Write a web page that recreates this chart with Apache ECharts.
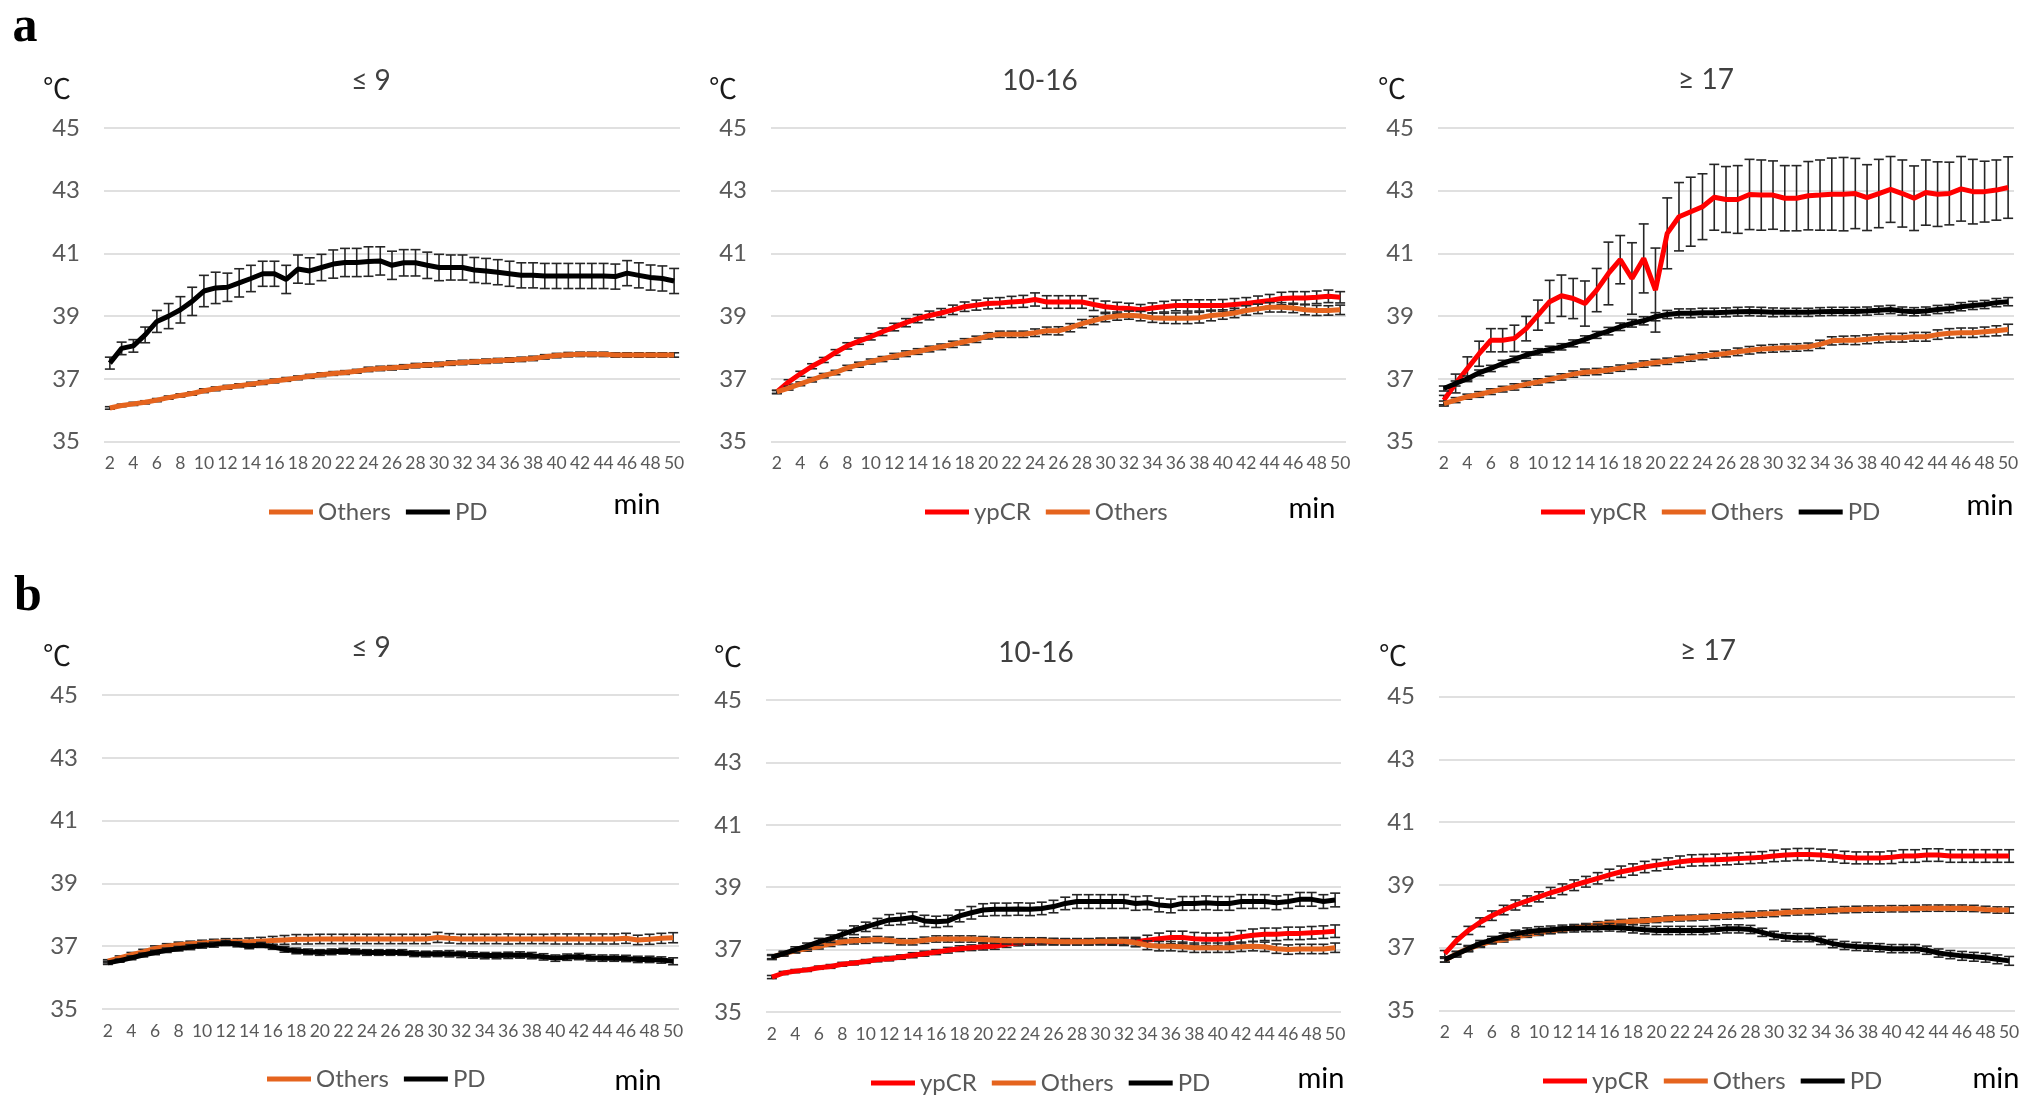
<!DOCTYPE html>
<html>
<head>
<meta charset="utf-8">
<script src="https://cdn.jsdelivr.net/npm/echarts@6/dist/echarts.min.js"></script>
<style>
html,body{margin:0;padding:0;background:#fff;}
#c{width:2031px;height:1109px;}
</style>
</head>
<body>
<div id="c"></div>
<script>
// ---------- DATA ----------
const minutes = ["2","3","4","5","6","7","8","9","10","11","12","13","14","15","16","17","18","19","20","21","22","23","24","25","26","27","28","29","30","31","32","33","34","35","36","37","38","39","40","41","42","43","44","45","46","47","48","49","50"];
const yTicks = [35, 37, 39, 41, 43, 45];
const panelTitles = ["≤ 9", "10-16", "≥ 17", "≤ 9", "10-16", "≥ 17"];

// a: ≤ 9
const a1_others = [36.07,36.15,36.2,36.25,36.32,36.4,36.47,36.53,36.62,36.68,36.73,36.78,36.83,36.88,36.93,36.98,37.03,37.08,37.13,37.17,37.2,37.24,37.3,37.33,37.35,37.38,37.42,37.44,37.46,37.5,37.52,37.54,37.56,37.58,37.6,37.62,37.65,37.7,37.74,37.77,37.78,37.78,37.78,37.76,37.76,37.76,37.76,37.76,37.76];
const a1_others_err = [0.04,0.04,0.05,0.05,0.05,0.05,0.05,0.05,0.06,0.06,0.06,0.06,0.06,0.06,0.06,0.06,0.06,0.06,0.06,0.06,0.06,0.06,0.07,0.07,0.07,0.07,0.07,0.07,0.07,0.07,0.07,0.07,0.07,0.07,0.07,0.07,0.07,0.07,0.07,0.07,0.07,0.07,0.07,0.07,0.07,0.07,0.07,0.07,0.07];
const a1_pd = [37.5,37.97,38.05,38.4,38.83,39.0,39.2,39.47,39.8,39.9,39.92,40.06,40.2,40.35,40.35,40.17,40.5,40.44,40.55,40.66,40.71,40.71,40.74,40.76,40.62,40.7,40.7,40.62,40.55,40.55,40.55,40.47,40.44,40.4,40.35,40.3,40.3,40.28,40.28,40.28,40.28,40.28,40.28,40.26,40.37,40.3,40.23,40.2,40.12];
const a1_pd_err = [0.19,0.2,0.2,0.25,0.35,0.4,0.42,0.45,0.5,0.5,0.45,0.45,0.42,0.4,0.4,0.45,0.45,0.42,0.42,0.45,0.45,0.45,0.47,0.45,0.45,0.42,0.42,0.42,0.42,0.4,0.4,0.4,0.4,0.4,0.4,0.4,0.4,0.4,0.4,0.4,0.4,0.4,0.4,0.4,0.4,0.4,0.4,0.4,0.4];

// a: 10-16
const a2_ypcr = [36.58,36.9,37.16,37.4,37.6,37.84,38.05,38.2,38.34,38.5,38.65,38.79,38.92,39.02,39.1,39.2,39.3,39.35,39.4,39.42,39.45,39.47,39.53,39.45,39.45,39.45,39.45,39.37,39.3,39.26,39.24,39.2,39.26,39.3,39.34,39.34,39.34,39.34,39.34,39.37,39.4,39.45,39.5,39.56,39.58,39.58,39.6,39.63,39.6];
const a2_ypcr_err = [0.05,0.07,0.08,0.08,0.08,0.09,0.1,0.1,0.1,0.12,0.12,0.13,0.13,0.14,0.14,0.15,0.15,0.16,0.17,0.17,0.18,0.19,0.21,0.2,0.2,0.2,0.2,0.19,0.18,0.18,0.17,0.17,0.16,0.17,0.17,0.18,0.18,0.18,0.19,0.19,0.19,0.19,0.19,0.2,0.2,0.2,0.2,0.2,0.18];
const a2_others = [36.58,36.7,36.84,36.97,37.1,37.2,37.35,37.45,37.55,37.63,37.72,37.8,37.87,37.95,38.02,38.1,38.18,38.26,38.37,38.42,38.42,38.42,38.47,38.53,38.53,38.63,38.76,38.86,38.95,39.0,39.03,39.0,38.95,38.93,38.93,38.93,38.95,39.02,39.05,39.1,39.18,39.23,39.28,39.28,39.26,39.2,39.18,39.18,39.2];
const a2_others_err = [0.05,0.06,0.06,0.07,0.07,0.07,0.08,0.08,0.08,0.08,0.09,0.09,0.09,0.09,0.09,0.1,0.1,0.1,0.1,0.1,0.1,0.1,0.12,0.12,0.13,0.13,0.13,0.13,0.13,0.13,0.13,0.15,0.15,0.16,0.17,0.17,0.17,0.17,0.15,0.15,0.15,0.15,0.15,0.15,0.15,0.16,0.16,0.15,0.15];

// a: ≥ 17
const a3_ypcr = [36.32,36.85,37.33,37.8,38.23,38.23,38.29,38.6,39.03,39.46,39.65,39.56,39.4,39.83,40.36,40.8,40.2,40.84,39.83,41.64,42.17,42.33,42.49,42.79,42.72,42.72,42.88,42.86,42.86,42.76,42.76,42.84,42.86,42.89,42.89,42.91,42.78,42.91,43.04,42.91,42.76,42.94,42.89,42.91,43.06,42.97,42.97,43.02,43.1];
const a3_ypcr_err = [0.15,0.3,0.37,0.4,0.37,0.37,0.42,0.39,0.48,0.68,0.66,0.64,0.72,0.69,1.0,0.77,1.14,1.1,1.34,1.13,1.09,1.1,1.05,1.05,1.05,1.08,1.12,1.12,1.09,1.04,1.04,1.09,1.12,1.15,1.17,1.12,1.05,1.09,1.05,1.07,1.03,1.04,1.03,1.0,1.03,1.03,0.97,0.96,0.98];
const a3_others = [36.21,36.32,36.43,36.5,36.59,36.67,36.74,36.83,36.9,36.98,37.06,37.15,37.21,37.23,37.28,37.34,37.4,37.47,37.52,37.56,37.62,37.67,37.72,37.77,37.81,37.86,37.91,37.95,37.97,37.99,38.0,38.02,38.1,38.21,38.23,38.23,38.26,38.29,38.31,38.31,38.34,38.34,38.41,38.45,38.47,38.47,38.5,38.53,38.57];
const a3_others_err = [0.08,0.08,0.08,0.09,0.09,0.09,0.1,0.1,0.1,0.1,0.1,0.1,0.1,0.1,0.1,0.1,0.1,0.1,0.1,0.1,0.1,0.11,0.11,0.11,0.11,0.12,0.12,0.12,0.12,0.12,0.12,0.12,0.13,0.13,0.13,0.14,0.14,0.14,0.14,0.14,0.14,0.14,0.15,0.15,0.15,0.15,0.15,0.16,0.17];
const a3_pd = [36.69,36.85,37.0,37.19,37.33,37.49,37.62,37.76,37.86,37.94,38.02,38.13,38.26,38.4,38.52,38.66,38.77,38.85,38.98,39.05,39.09,39.09,39.11,39.11,39.12,39.14,39.15,39.14,39.12,39.12,39.12,39.12,39.14,39.15,39.15,39.15,39.16,39.19,39.21,39.16,39.14,39.16,39.21,39.24,39.3,39.34,39.37,39.43,39.46];
const a3_pd_err = [0.08,0.08,0.09,0.09,0.1,0.1,0.1,0.1,0.1,0.1,0.1,0.11,0.11,0.11,0.12,0.12,0.12,0.13,0.13,0.13,0.14,0.14,0.14,0.14,0.14,0.14,0.14,0.14,0.14,0.13,0.13,0.13,0.13,0.13,0.13,0.13,0.13,0.13,0.13,0.13,0.13,0.13,0.13,0.13,0.13,0.13,0.13,0.13,0.13];

// b: ≤ 9
const b1_others = [36.52,36.63,36.73,36.82,36.93,37.0,37.05,37.08,37.1,37.13,37.14,37.14,37.14,37.16,37.18,37.2,37.22,37.22,37.23,37.23,37.23,37.23,37.23,37.23,37.23,37.23,37.23,37.23,37.28,37.25,37.23,37.23,37.23,37.23,37.23,37.23,37.23,37.23,37.23,37.23,37.23,37.23,37.23,37.23,37.25,37.2,37.22,37.25,37.27];
const b1_others_err = [0.05,0.06,0.07,0.08,0.08,0.08,0.08,0.08,0.09,0.09,0.1,0.1,0.12,0.12,0.13,0.14,0.15,0.15,0.15,0.15,0.15,0.15,0.15,0.15,0.15,0.15,0.15,0.15,0.16,0.15,0.15,0.15,0.15,0.15,0.16,0.15,0.15,0.15,0.16,0.16,0.16,0.16,0.16,0.16,0.16,0.15,0.16,0.16,0.16];
const b1_pd = [36.47,36.54,36.63,36.72,36.8,36.87,36.92,36.97,37.02,37.05,37.1,37.06,37.0,37.04,36.98,36.9,36.85,36.82,36.8,36.82,36.84,36.82,36.8,36.8,36.8,36.8,36.76,36.75,36.76,36.76,36.74,36.72,36.7,36.7,36.71,36.72,36.7,36.66,36.62,36.65,36.67,36.63,36.62,36.62,36.61,36.58,36.58,36.56,36.52];
const b1_pd_err = [0.05,0.05,0.06,0.06,0.07,0.07,0.07,0.08,0.08,0.08,0.08,0.08,0.08,0.08,0.08,0.09,0.09,0.09,0.09,0.09,0.09,0.09,0.09,0.09,0.09,0.09,0.09,0.09,0.09,0.1,0.1,0.1,0.1,0.1,0.1,0.1,0.1,0.1,0.1,0.1,0.1,0.1,0.1,0.1,0.1,0.1,0.1,0.1,0.11];

// b: 10-16
const b2_ypcr = [36.12,36.25,36.31,36.35,36.42,36.46,36.53,36.57,36.62,36.68,36.71,36.76,36.82,36.87,36.92,36.98,37.03,37.06,37.09,37.11,37.17,37.22,37.24,37.25,37.25,37.25,37.25,37.25,37.25,37.25,37.25,37.25,37.3,37.35,37.39,37.39,37.35,37.33,37.33,37.35,37.41,37.46,37.49,37.49,37.52,37.52,37.54,37.56,37.59];
const b2_ypcr_err = [0.05,0.05,0.05,0.05,0.05,0.06,0.06,0.06,0.06,0.07,0.07,0.07,0.08,0.08,0.08,0.09,0.09,0.09,0.1,0.1,0.1,0.1,0.1,0.1,0.1,0.1,0.1,0.1,0.1,0.11,0.12,0.14,0.16,0.18,0.2,0.2,0.2,0.2,0.2,0.2,0.2,0.2,0.2,0.2,0.2,0.2,0.2,0.2,0.2];
const b2_others = [36.76,36.87,36.96,37.03,37.1,37.19,37.25,37.28,37.3,37.32,37.3,37.25,37.25,37.3,37.34,37.34,37.34,37.34,37.32,37.3,37.28,37.28,37.28,37.28,37.26,37.25,37.25,37.25,37.27,37.27,37.27,37.22,37.14,37.11,37.11,37.09,37.06,37.06,37.06,37.06,37.09,37.11,37.09,37.03,37.0,37.02,37.02,37.02,37.06];
const b2_others_err = [0.05,0.06,0.07,0.08,0.08,0.09,0.09,0.1,0.1,0.1,0.1,0.1,0.1,0.1,0.1,0.1,0.1,0.1,0.1,0.1,0.1,0.1,0.1,0.1,0.1,0.1,0.1,0.1,0.1,0.1,0.12,0.13,0.14,0.15,0.15,0.15,0.15,0.15,0.15,0.15,0.15,0.15,0.15,0.15,0.15,0.15,0.15,0.15,0.15];
const b2_pd = [36.76,36.87,37.0,37.11,37.25,37.35,37.49,37.62,37.73,37.84,37.95,37.98,38.03,37.92,37.89,37.92,38.08,38.18,38.27,38.29,38.29,38.3,38.29,38.32,38.38,38.48,38.54,38.54,38.54,38.54,38.54,38.48,38.5,38.43,38.4,38.48,38.48,38.5,38.48,38.48,38.54,38.54,38.54,38.5,38.54,38.61,38.61,38.54,38.59];
const b2_pd_err = [0.08,0.08,0.09,0.1,0.11,0.12,0.13,0.14,0.15,0.16,0.17,0.18,0.18,0.18,0.18,0.18,0.19,0.2,0.2,0.2,0.2,0.2,0.2,0.2,0.2,0.2,0.22,0.22,0.22,0.22,0.22,0.22,0.22,0.22,0.22,0.22,0.22,0.22,0.22,0.22,0.22,0.22,0.22,0.22,0.22,0.22,0.22,0.22,0.22];

// b: ≥ 17
const b3_ypcr = [36.81,37.23,37.55,37.81,38.02,38.2,38.36,38.49,38.62,38.75,38.86,38.99,39.1,39.21,39.32,39.42,39.49,39.57,39.63,39.68,39.74,39.78,39.79,39.8,39.82,39.84,39.86,39.88,39.92,39.95,39.97,39.97,39.95,39.92,39.88,39.86,39.86,39.86,39.88,39.92,39.92,39.95,39.95,39.92,39.92,39.92,39.92,39.92,39.92];
const b3_ypcr_err = [0.1,0.12,0.13,0.14,0.15,0.15,0.16,0.16,0.16,0.17,0.17,0.17,0.17,0.18,0.18,0.18,0.18,0.18,0.18,0.18,0.18,0.18,0.18,0.18,0.18,0.18,0.18,0.18,0.18,0.19,0.19,0.19,0.19,0.19,0.19,0.19,0.19,0.19,0.2,0.2,0.2,0.2,0.2,0.2,0.2,0.2,0.2,0.2,0.2];
const b3_others = [36.6,36.81,36.97,37.09,37.2,37.26,37.34,37.41,37.47,37.53,37.58,37.63,37.68,37.74,37.78,37.81,37.84,37.86,37.89,37.92,37.94,37.95,37.97,37.99,38.01,38.03,38.05,38.07,38.09,38.12,38.14,38.15,38.17,38.19,38.21,38.22,38.23,38.23,38.24,38.24,38.25,38.26,38.26,38.26,38.26,38.25,38.22,38.2,38.2];
const b3_others_err = [0.06,0.07,0.07,0.08,0.08,0.08,0.08,0.08,0.08,0.08,0.08,0.08,0.09,0.09,0.09,0.09,0.09,0.09,0.09,0.09,0.09,0.09,0.09,0.09,0.1,0.1,0.1,0.1,0.1,0.1,0.1,0.1,0.1,0.1,0.1,0.1,0.1,0.1,0.1,0.1,0.1,0.1,0.1,0.1,0.1,0.1,0.1,0.1,0.1];
const b3_pd = [36.62,36.79,36.97,37.13,37.25,37.36,37.44,37.51,37.55,37.57,37.6,37.62,37.63,37.63,37.65,37.63,37.6,37.57,37.55,37.55,37.55,37.55,37.55,37.57,37.6,37.6,37.58,37.49,37.39,37.34,37.32,37.32,37.23,37.13,37.07,37.04,37.02,37.0,36.97,36.97,36.97,36.92,36.83,36.78,36.74,36.71,36.68,36.63,36.58];
const b3_pd_err = [0.08,0.09,0.1,0.1,0.11,0.11,0.12,0.12,0.12,0.12,0.12,0.12,0.12,0.12,0.12,0.12,0.13,0.13,0.13,0.13,0.13,0.13,0.13,0.13,0.13,0.13,0.13,0.13,0.13,0.13,0.13,0.13,0.13,0.13,0.13,0.13,0.13,0.13,0.13,0.13,0.13,0.13,0.13,0.13,0.14,0.14,0.14,0.14,0.14];

// ---------- LAYOUT / STYLE ----------
const FONT = 'Lato, "Noto Sans", sans-serif';
const colors = { ypCR: '#FF0000', Others: '#E5641E', PD: '#000000' };
const grids = [
  { left: 104, top: 128, width: 576, height: 313.5 },
  { left: 771, top: 128, width: 575, height: 313.5 },
  { left: 1438, top: 128, width: 576, height: 313.5 },
  { left: 102, top: 695, width: 577, height: 314 },
  { left: 766, top: 700, width: 575, height: 312 },
  { left: 1439, top: 696.5, width: 576, height: 314 }
];
const panels = [
  { series: [['Others', a1_others, a1_others_err], ['PD', a1_pd, a1_pd_err]],
    legend: { left: 269, cy: 511 }, title: [371, 81], unit: [57, 88], min: [637, 505] },
  { series: [['ypCR', a2_ypcr, a2_ypcr_err], ['Others', a2_others, a2_others_err]],
    legend: { left: 925, cy: 511 }, title: [1040, 81], unit: [723, 88], min: [1312, 509] },
  { series: [['ypCR', a3_ypcr, a3_ypcr_err], ['Others', a3_others, a3_others_err], ['PD', a3_pd, a3_pd_err]],
    legend: { left: 1541, cy: 511 }, title: [1706, 80], unit: [1392, 88], min: [1990, 506] },
  { series: [['Others', b1_others, b1_others_err], ['PD', b1_pd, b1_pd_err]],
    legend: { left: 267, cy: 1078 }, title: [371, 648], unit: [57, 655], min: [638, 1081] },
  { series: [['ypCR', b2_ypcr, b2_ypcr_err], ['Others', b2_others, b2_others_err], ['PD', b2_pd, b2_pd_err]],
    legend: { left: 871, cy: 1082 }, title: [1036, 653], unit: [728, 656], min: [1321, 1079] },
  { series: [['ypCR', b3_ypcr, b3_ypcr_err], ['Others', b3_others, b3_others_err], ['PD', b3_pd, b3_pd_err]],
    legend: { left: 1543, cy: 1080 }, title: [1708, 651], unit: [1393, 655], min: [1996, 1079] }
];

function errRender(params, api) {
  const x = api.value(0), y = api.value(1), e = api.value(2);
  const hi = api.coord([x, y + e]);
  const lo = api.coord([x, y - e]);
  const w = 5;
  const st = { stroke: '#262626', lineWidth: 1.6 };
  return {
    type: 'group',
    children: [
      { type: 'line', shape: { x1: hi[0], y1: hi[1], x2: lo[0], y2: lo[1] }, style: st },
      { type: 'line', shape: { x1: hi[0] - w, y1: hi[1], x2: hi[0] + w, y2: hi[1] }, style: st },
      { type: 'line', shape: { x1: lo[0] - w, y1: lo[1], x2: lo[0] + w, y2: lo[1] }, style: st }
    ]
  };
}

const xAxis = [], yAxis = [], series = [], legend = [], graphic = [];
panels.forEach((p, gi) => {
  xAxis.push({
    type: 'category', gridIndex: gi, data: minutes, boundaryGap: true,
    axisLine: { show: false }, axisTick: { show: false }, splitLine: { show: false },
    axisLabel: { interval: 1, fontSize: 17.5, color: '#595959', margin: 13, fontFamily: FONT }
  });
  yAxis.push({
    type: 'value', gridIndex: gi, min: yTicks[0], max: yTicks[yTicks.length - 1], interval: 2,
    axisLine: { show: false }, axisTick: { show: false },
    axisLabel: { fontSize: 24, color: '#595959', margin: 24, fontFamily: FONT },
    splitLine: { show: true, lineStyle: { color: '#d6d6d6', width: 1.6 } }
  });
  p.series.forEach(([name, vals, errs], k) => {
    const c = colors[name];
    series.push({
      name: name + ' err', type: 'custom', xAxisIndex: gi, yAxisIndex: gi,
      renderItem: errRender, z: 2 + k * 2, silent: true,
      encode: { x: 0, y: 1 },
      data: vals.map((v, i) => [i, v, errs[i] || 0])
    });
    series.push({
      name: name, type: 'line', xAxisIndex: gi, yAxisIndex: gi,
      data: vals, symbol: 'none', color: c, z: 3 + k * 2,
      lineStyle: { color: c, width: 5 }, itemStyle: { color: c },
      emphasis: { disabled: true }, animation: false
    });
  });
  legend.push({
    data: p.series.map(s => ({ name: s[0], itemStyle: { color: colors[s[0]] } })),
    left: p.legend.left, top: p.legend.cy - 11, padding: 0, icon: 'rect', itemWidth: 44, itemHeight: 5,
    itemGap: 15, selectedMode: false,
    textStyle: { fontSize: 24, color: '#595959', fontFamily: FONT }
  });
  graphic.push({ type: 'text', x: p.title[0], y: p.title[1],
    style: { text: panelTitles[gi], font: '28px ' + FONT, fill: '#404040', textAlign: 'center', textVerticalAlign: 'middle' } });
  graphic.push({ type: 'text', x: p.unit[0], y: p.unit[1],
    style: { text: '℃', font: '28px "Noto Sans CJK JP", "Noto Sans CJK SC", sans-serif', fill: '#1a1a1a', textAlign: 'center', textVerticalAlign: 'middle' } });
  graphic.push({ type: 'text', x: p.min[0], y: p.min[1],
    style: { text: 'min', font: '29px ' + FONT, fill: '#000', textAlign: 'center', textVerticalAlign: 'middle' } });
});
graphic.push({ type: 'text', x: 25, y: 28,
  style: { text: 'a', font: 'bold 50px "Liberation Serif", "DejaVu Serif", serif', fill: '#000', textAlign: 'center', textVerticalAlign: 'middle' } });
graphic.push({ type: 'text', x: 28, y: 597,
  style: { text: 'b', font: 'bold 50px "Liberation Serif", "DejaVu Serif", serif', fill: '#000', textAlign: 'center', textVerticalAlign: 'middle' } });

const chart = echarts.init(document.getElementById('c'), null, { renderer: 'canvas' });
chart.setOption({
  backgroundColor: '#ffffff',
  animation: false,
  textStyle: { fontFamily: FONT },
  grid: grids.map(g => Object.assign({ containLabel: false }, g)),
  xAxis, yAxis, series, legend, graphic
});
</script>
</body>
</html>
